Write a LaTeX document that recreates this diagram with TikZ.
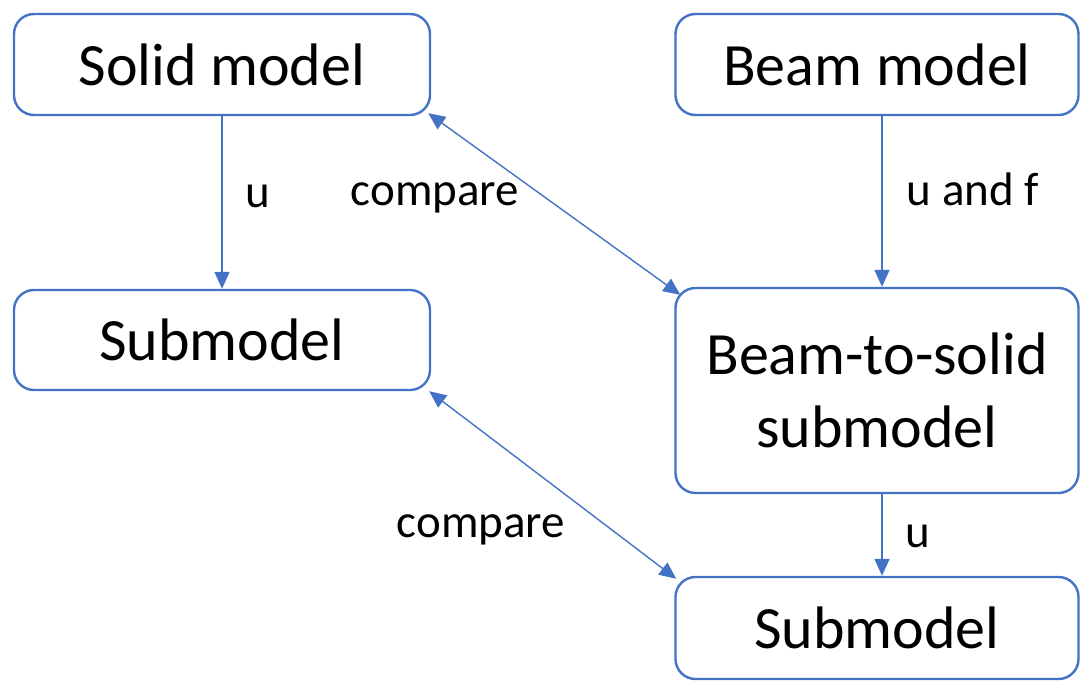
\documentclass[tikz,border=0pt]{standalone}
\usepackage{fontspec}
\setmainfont{Carlito}
\usepackage{tikz}
\usetikzlibrary{arrows.meta, positioning}
\usepackage{xcolor}
\definecolor{linkblue}{HTML}{4472C4}

\begin{document}
\begin{tikzpicture}[
        x=1pt, y=-1pt,
        box/.style={draw=linkblue, line width=2.4pt, rounded corners=20pt,
          fill=white, align=center, inner sep=0pt,
          font=\fontsize{60}{73}\selectfont},
        link/.style={draw=linkblue, line width=1.4pt,
          -{Triangle[length=17pt, width=15pt]}},
        twoway/.style={link, {Triangle[length=17pt, width=15pt]}-{Triangle[length=17pt, width=15pt]}},
        lbl/.style={anchor=base, inner sep=0pt, font=\fontsize{47}{56}\selectfont}
      ]
        \useasboundingbox (0,0) rectangle (1081,680);
        % Top row
        \node[box, minimum width=416pt, minimum height=101pt] (solid) at (222,64.5) {Solid model};
        \node[box, minimum width=403pt, minimum height=101pt] (beam) at (877,64.5) {Beam model};
        % Middle row
        \node[box, minimum width=416pt, minimum height=100pt] (sub1) at (222,340) {Submodel};
        \node[box, minimum width=403pt, minimum height=205pt] (b2s) at (877,390.5) {Beam-to-solid\\submodel};
        % Bottom row
        \node[box, minimum width=403pt, minimum height=102pt] (sub2) at (877,628) {Submodel};

        % Downward connections
        \draw[link] (solid) -- (sub1);
        \draw[link] ([xshift=5pt]beam.south) -- ([xshift=5pt]beam.south |- b2s.north);
        \draw[link] ([xshift=5pt]b2s.south) -- ([xshift=5pt]b2s.south |- sub2.north);
        % Comparisons
        \draw[twoway] ([shift={(-3,-3)}]solid.south east) -- ([shift={(6,8)}]b2s.north west);
        \draw[twoway] ([shift={(-2,0)}]sub1.south east) -- ([shift={(2,3)}]sub2.north west);

        % Labels
        \node[lbl] (lu1) at (258,207) {u};
        \node[lbl] (luf) at (973,205) {u and f};
        \node[lbl] (lu2) at (918,547) {u};
        \node[lbl] (lc1) at (435,205) {compare};
        \node[lbl] (lc2) at (481,537) {compare};
      \end{tikzpicture}
\end{document}
